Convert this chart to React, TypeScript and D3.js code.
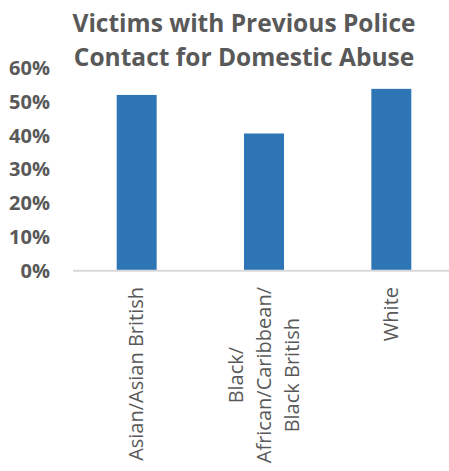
import React from "react";
import * as d3 from "d3";

const categories: string[][] = [
  ["Asian/Asian British"],
  ["Black/", "African/Caribbean/", "Black British"],
  ["White"],
];
const values: number[] = [0.52, 0.406, 0.538];
const yTicks: number[] = [0, 0.1, 0.2, 0.3, 0.4, 0.5, 0.6];
const titleLines: string[] = ["Victims with Previous Police", "Contact for Domestic Abuse"];

const W = 449;
const H = 471;
const TEXT = "#595959";
const BAR = "#2E75B6";
const AXIS = "#D9D9D9";
const FONT = "'Open Sans', sans-serif";

function measure(text: string, font: string): number {
  if (typeof document === "undefined") return text.length * 10;
  const c = document.createElement("canvas");
  const ctx = c.getContext("2d");
  if (!ctx) return text.length * 10;
  ctx.font = font;
  return ctx.measureText(text).width;
}

export default function App() {
  const x = d3
    .scaleBand<number>()
    .domain(d3.range(categories.length))
    .range([73, 455])
    .paddingInner(0.686)
    .paddingOuter(0.343);
  const y = d3.scaleLinear().domain([0, 0.6]).range([270.7, 67.9]);
  const fmt = d3.format(".0%");
  const labelTop = 287;
  const lineGap = 28;
  const catFont = "20px 'Open Sans'";

  return (
    <svg
      width={W}
      height={H}
      style={{ position: "fixed", left: 0, top: 0, background: "#fff" }}
      fontFamily={FONT}
    >
      <rect x={0} y={0} width={W} height={H} fill="#fff" />
      {titleLines.map((t, i) => (
        <text
          key={t}
          x={244}
          y={31.5 + i * 34}
          textAnchor="middle"
          fontSize={24.5}
          fontWeight={700}
          fill={TEXT}
        >
          {t}
        </text>
      ))}
      {yTicks.map((v) => (
        <text
          key={v}
          x={50}
          y={y(v) + 7}
          textAnchor="end"
          fontSize={20}
          fontWeight={700}
          fill={TEXT}
        >
          {fmt(v)}
        </text>
      ))}
      {values.map((v, i) => (
        <rect
          key={i}
          x={x(i)}
          y={y(v)}
          width={x.bandwidth()}
          height={y(0) - y(v)}
          fill={BAR}
        />
      ))}
      <line x1={73} x2={W} y1={y(0)} y2={y(0)} stroke={AXIS} strokeWidth={2} />
      {categories.map((lines, i) => {
        const cx = (x(i) as number) + x.bandwidth() / 2;
        const n = lines.length;
        if (n === 1) {
          return (
            <text
              key={i}
              transform={`translate(${cx + 6.5},${labelTop}) rotate(-90)`}
              textAnchor="end"
              fontSize={20}
              fill={TEXT}
            >
              {lines[0]}
            </text>
          );
        }
        const maxLen = Math.max(...lines.map((l) => measure(l, catFont)));
        const cy = labelTop + maxLen / 2;
        return (
          <g key={i}>
            {lines.map((l, j) => (
              <text
                key={j}
                transform={`translate(${cx + 6.5 + (j - (n - 1) / 2) * lineGap},${cy}) rotate(-90)`}
                textAnchor="middle"
                fontSize={20}
                fill={TEXT}
              >
                {l}
              </text>
            ))}
          </g>
        );
      })}
    </svg>
  );
}
